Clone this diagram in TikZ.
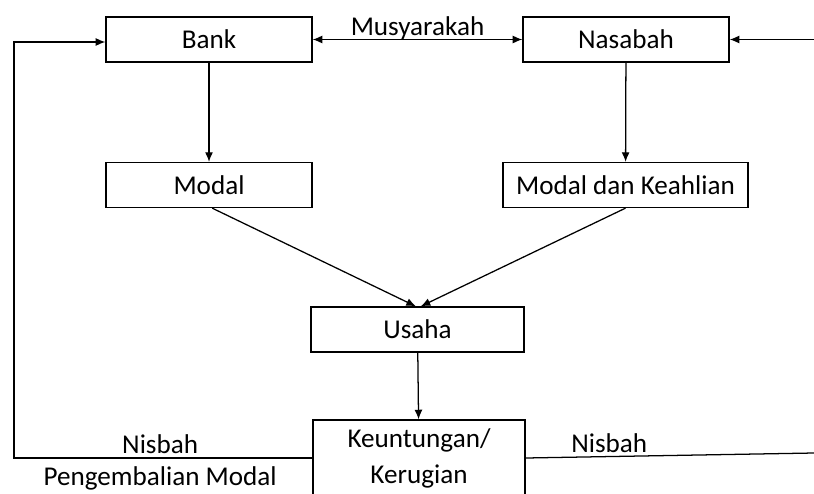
\documentclass[tikz,border=0pt]{standalone}
\usepackage{fontspec}
\setmainfont{Carlito}
\usetikzlibrary{arrows.meta}
\tikzset{
  box/.style={draw, line width=0.9pt, minimum width=5.15cm, minimum height=1.125cm, inner sep=0pt},
  flow/.style={line width=0.9pt, -{Latex[length=2.4mm,width=2mm]}},
}
\begin{document}
\begin{tikzpicture}[x=0.025cm,y=-0.025cm,font=\fontsize{19.3}{23.5}\selectfont]
\clip (0,0) rectangle (814,493);
\node[box] (bank) at (209,39.5) {Bank};
\node[box] (nasabah) at (626,39.5) {Nasabah};
\node[box] (modal) at (209,185) {Modal};
\node[box, minimum width=6.125cm] (keahlian) at (625.5,185) {Modal dan Keahlian};
\node[box, minimum width=5.325cm] (usaha) at (417.5,329.5) {Usaha};
\node[box, minimum width=5.3cm, minimum height=1.9cm, align=center, font=\fontsize{19.3}{25.5}\selectfont] (untung) at (419,458) {Keuntungan/\\Kerugian};
\coordinate (lbottom) at (14,458);
\coordinate (ltop) at (14,42);
\coordinate (rtop) at (814,39.5);
\coordinate (rbottom) at (814,453);
% arrows
\draw[flow,{Latex[length=2.4mm,width=2mm]}-{Latex[length=2.4mm,width=2mm]}] (bank) -- node[above=-4pt] {Musyarakah} (nasabah);
\draw[flow] (rtop) -- (nasabah);
\draw[flow] (bank) -- (modal);
\draw[flow] (nasabah) -- (keahlian);
\draw[flow] ([xshift=0.08cm]modal.south) -- ([xshift=-0.04cm]usaha.north);
\draw[flow] (keahlian.south) -- ([xshift=0.08cm]usaha.north);
\draw[flow] (usaha) -- (untung);
\draw[flow] (untung.west) -- node[pos=0.51,above=-0.5pt] {Nisbah} node[pos=0.51,below=2.3pt] {Pengembalian Modal} (lbottom) -- (ltop) -- (bank.west |- ltop);
\draw[line width=0.9pt] (untung.east) -- node[pos=0.29,above=-1pt] {Nisbah} (rbottom);
\end{tikzpicture}
\end{document}
